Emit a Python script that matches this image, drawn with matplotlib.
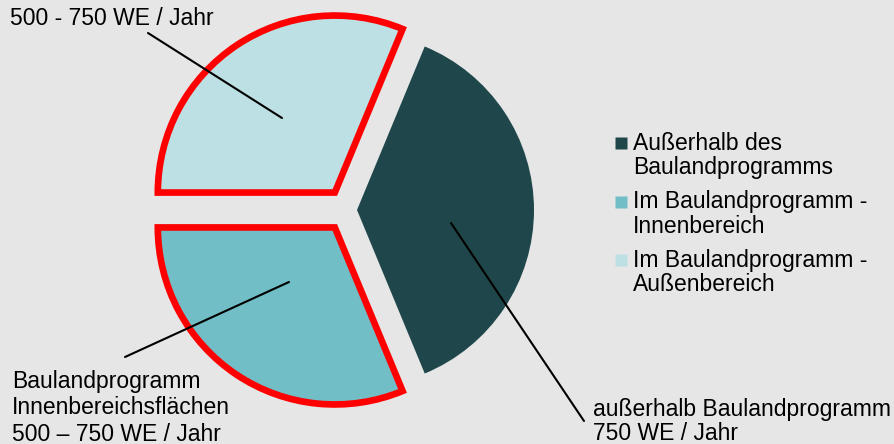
import matplotlib.pyplot as plt

# Wohneinheiten pro Jahr (Mittelwerte der Spannen)
categories = ["Außerhalb des\nBaulandprogramms",
              "Im Baulandprogramm -\nAußenbereich",
              "Im Baulandprogramm -\nInnenbereich"]
values = [750, 625, 625]
colors = ["#1F474B", "#BCE0E3", "#71BEC6"]
edge_colors = ["none", "#FF0000", "#FF0000"]
legend_order = [0, 2, 1]

labels_text = ["außerhalb Baulandprogramm\n750 WE / Jahr",
               "500 - 750 WE / Jahr",
               "Baulandprogramm\nInnenbereichsflächen\n500 – 750 WE / Jahr"]

BG = "#E6E6E6"
plt.rcParams['font.family'] = ['Liberation Sans', 'DejaVu Sans']

fig = plt.figure(figsize=(8.95, 4.44), dpi=100, facecolor=BG)
ax = fig.add_axes([0, 0, 1, 1])
ax.set_facecolor(BG)

# pie drawn in pixel-like units so the annotations are easy to place
wedges, _ = ax.pie(
    values,
    colors=colors,
    startangle=-67.5,
    counterclock=True,
    explode=[10.5, 21, 21],
    radius=177,
    center=(346.5, 234),
    wedgeprops=dict(linewidth=4.8, joinstyle="miter"),
)
for w, ec in zip(wedges, edge_colors):
    w.set_edgecolor(ec)

ax.set_xlim(0, 895)
ax.set_ylim(0, 444)
ax.set_aspect("equal")
ax.axis("off")

FS = 16.5
line_kw = dict(arrowstyle="-", color="black", lw=1.5, shrinkA=0, shrinkB=0)
ax.annotate("", xy=(451, 221), xytext=(584, 23), arrowprops=line_kw)
ax.annotate("", xy=(282, 326), xytext=(148, 411), arrowprops=line_kw)
ax.annotate("", xy=(289, 162), xytext=(125, 87), arrowprops=line_kw)

ax.text(593, 22.5, labels_text[0], fontsize=FS, va="center", ha="left",
        linespacing=1.11)
ax.text(10, 426, labels_text[1], fontsize=FS, va="center", ha="left")
ax.text(12, 36, labels_text[2], fontsize=FS, va="center", ha="left",
        linespacing=1.18)

# legend: colour square next to the first line of each label
for k, i in enumerate(legend_order):
    y0 = 444 - (143 + 58.5 * k)
    ax.plot(621, y0, marker="s", markersize=8.6, ls="none",
            markerfacecolor=colors[i], markeredgecolor="none")
    ax.text(633, y0 - 12.5, categories[i], fontsize=FS, va="center",
            ha="left", linespacing=1.11)

fig.savefig("out.png", dpi=100, facecolor=BG)
